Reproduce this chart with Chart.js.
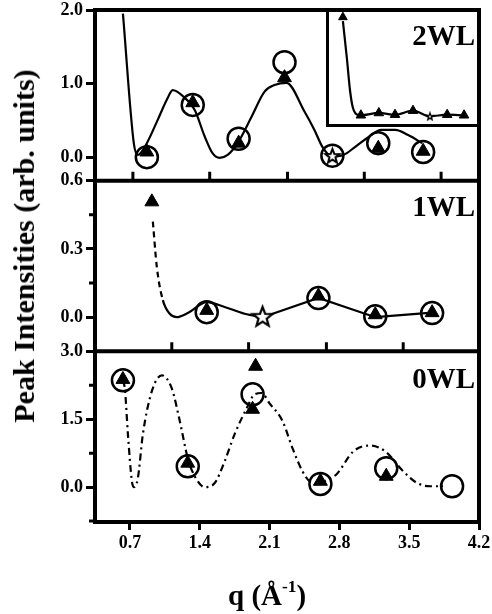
<!DOCTYPE html>
<html>
<head>
<meta charset="utf-8">
<title>Peak intensities vs q</title>
<script src="https://cdn.jsdelivr.net/npm/chart.js@4.4.1/dist/chart.umd.min.js"></script>
<style>
  body { margin: 0; background: #fff; }
  #wrap { position: relative; width: 492px; height: 614px; overflow: hidden; }
  canvas { position: absolute; }
  .txt { position: absolute; font-family: "Liberation Serif", "Times New Roman", serif; font-weight: bold; color: #000; white-space: nowrap; line-height: 1; }
  #ytitle { left: 24px; top: 246px; font-size: 30px; transform: translate(-50%, -50%) rotate(-90deg); }
  #xtitle { left: 228px; top: 581px; font-size: 29px; }
  #xtitle sup { font-size: 0.6em; line-height: 0; vertical-align: 0.75em; }
  .wl { right: 17px; font-size: 29px; }
</style>
</head>
<body>
<div id="wrap">
  <canvas id="main" width="492" height="614" style="left:0;top:0"></canvas>
  <canvas id="inset" width="151" height="115" style="left:326px;top:12px"></canvas>
  <div class="txt wl" style="top:21px">2WL</div>
  <div class="txt wl" style="top:192px">1WL</div>
  <div class="txt wl" style="top:364px">0WL</div>
  <div class="txt" id="ytitle">Peak Intensities (arb. units)</div>
  <div class="txt" id="xtitle">q (Å<sup>-1</sup>)</div>
</div>
<script>
// axis ticks
const qTicks = [0.7, 1.4, 2.1, 2.8, 3.5, 4.2];
const ticks2WL = [0, 1, 2];
const ticks1WL = [0, 0.3, 0.6];
const ticks0WL = [0, 1.5, 3];
const minor1WL = [0.15, 0.45];
const minor0WL = [-0.75, 0.75, 2.25];
const innerTicksTop = [0.73, 1.50, 2.28, 3.05, 3.82];
const innerTicksMid = [1.12, 1.89, 2.67, 3.44];

// 2WL panel
const q2WL = [0.87, 1.33, 1.79, 2.25, 2.73, 3.19, 3.64];
const circ2WL = [0.00, 0.71, 0.25, 1.29, 0.02, 0.19, 0.07];
const tri2WL = [0.07, 0.74, 0.19, 1.08, null, 0.12, 0.08];
const star2WL = [null, null, null, null, 0.02, null, null];
const fitQ2WL = [0.63, 0.74, 0.78, 0.85, 0.98, 1.07, 1.13, 1.23, 1.35, 1.45, 1.53, 1.60, 1.68, 1.78, 1.92, 2.05, 2.15, 2.27, 2.45, 2.55, 2.63, 2.72, 2.84, 2.96, 3.09, 3.22, 3.36, 3.49, 3.63];
const fit2WL = [1.95, 0.18, 0.03, 0.14, 0.51, 0.78, 0.91, 0.83, 0.64, 0.28, 0.05, -0.01, 0.03, 0.19, 0.55, 0.89, 0.98, 1.01, 0.62, 0.37, 0.14, 0.01, 0.03, 0.14, 0.27, 0.37, 0.37, 0.30, 0.19];

// 2WL inset
const insetQ = [0.47, 0.58, 0.67, 0.75, 0.89, 0.97, 1.47, 1.92, 2.42, 2.89, 3.37, 3.84];
const insetI = [9.20, 6.00, 3.13, 1.65, 1.04, 1.02, 1.22, 1.07, 1.42, 0.93, 1.07, 1.02];
const insetTriQ = [0.97, 1.47, 1.92, 2.42, 3.37, 3.84];
const insetTri = [1.02, 1.22, 1.07, 1.42, 1.07, 1.02];
const insetStarQ = [2.89];
const insetStar = [0.93];
const insetArrowQ = [0.47];
const insetArrow = [9.55];

// 1WL panel
const q1WL = [0.92, 1.47, 2.03, 2.59, 3.16, 3.73];
const circ1WL = [null, 0.022, null, 0.084, 0.004, 0.018];
const tri1WL = [0.507, 0.03, null, 0.093, 0.011, 0.02];
const star1WL = [null, null, 0.004, null, null, null];
const fitQ1WL = [0.93, 0.97, 1.03, 1.10, 1.17, 1.28, 1.47, 1.65, 1.85, 2.03];
const fit1WL = [0.42, 0.22, 0.075, 0.015, 0.0, 0.018, 0.066, 0.045, 0.015, 0.0];
const lineQ1WL = [2.03, 2.59, 3.16, 3.73];
const line1WL = [0.0, 0.085, 0.0, 0.02];

// 0WL panel
const q0WL = [0.63, 1.28, 1.93, 1.96, 2.61, 3.27, 3.93];
const circ0WL = [2.36, 0.46, 2.05, null, 0.07, 0.42, 0.02];
const tri0WL = [2.38, 0.53, 1.72, 2.67, 0.13, 0.24, null];
const fitQ0WL = [0.63, 0.65, 0.68, 0.72, 0.74, 0.78, 0.83, 0.92, 1.02, 1.12, 1.20, 1.28, 1.35, 1.45, 1.55, 1.65, 1.75, 1.87, 1.95, 2.02, 2.10, 2.23, 2.33, 2.43, 2.50, 2.58, 2.69, 2.77, 2.94, 3.11, 3.26, 3.44, 3.58, 3.71, 3.84];
const fit0WL = [2.36, 2.16, 1.17, 0.13, 0.00, 0.20, 1.17, 2.12, 2.47, 2.18, 1.46, 0.64, 0.24, 0.00, 0.09, 0.57, 1.17, 1.74, 2.05, 2.08, 1.85, 1.46, 0.86, 0.35, 0.13, 0.06, 0.18, 0.28, 0.79, 0.92, 0.79, 0.35, 0.09, 0.02, 0.02];

const pts = (xs, ys) => xs.map((x, i) => ({x: x, y: ys[i]})).filter(p => p.y !== null);
const serif = 'Liberation Serif';

// open five-point star used as point style
function makeStar(size, lw) {
  const c = document.createElement('canvas');
  c.width = c.height = size;
  const g = c.getContext('2d');
  const cx = size / 2, cy = size / 2 + size * 0.04;
  const R = size / 2 - lw, r = R * 0.42;
  g.beginPath();
  for (let i = 0; i < 10; i++) {
    const a = -Math.PI / 2 + i * Math.PI / 5;
    const rr = i % 2 ? r : R;
    g.lineTo(cx + rr * Math.cos(a), cy + rr * Math.sin(a));
  }
  g.closePath();
  g.fillStyle = '#fff';
  g.fill();
  g.lineWidth = lw;
  g.lineJoin = 'miter';
  g.strokeStyle = '#000';
  g.stroke();
  return c;
}

function triangles(data, yAxisID, r) {
  return { data, yAxisID, pointStyle: 'triangle', pointRadius: r || 8, pointBackgroundColor: '#000', pointBorderColor: '#000', pointBorderWidth: 1, showLine: false };
}
function circles(data, yAxisID) {
  return { data, yAxisID, pointStyle: 'circle', pointRadius: 11, pointBackgroundColor: 'rgba(0,0,0,0)', pointBorderColor: '#000', pointBorderWidth: 2.5, showLine: false };
}
function stars(data, yAxisID, img) {
  return { data, yAxisID, pointStyle: img, pointRadius: 8, showLine: false };
}
function curve(data, yAxisID, extra) {
  return Object.assign({ data, yAxisID, showLine: true, pointRadius: 0, borderColor: '#000', borderWidth: 2.2, cubicInterpolationMode: 'monotone' }, extra);
}

function yScale(min, max, major) {
  return {
    type: 'linear', position: 'left', stack: 'wl', stackWeight: 1, min, max,
    afterBuildTicks: s => { s.ticks = major.map(v => ({value: v})); },
    afterFit: s => { s.width = 95; s.paddingTop = 0; s.paddingBottom = 0; },
    ticks: { color: '#000', padding: 3, font: {family: serif, weight: 'bold', size: 18, lineHeight: 1}, callback: v => v.toFixed(1) },
    grid: { drawOnChartArea: false, tickLength: 9, tickWidth: 3, tickColor: '#000' },
    border: { width: 4, color: '#000' }
  };
}

const framePlugin = {
  id: 'frame',
  afterDraw(chart) {
    const {ctx, chartArea: a, scales} = chart;
    const x = scales.x, yT = scales.y2wl, yM = scales.y1wl, yB = scales.y0wl;
    ctx.save();
    ctx.strokeStyle = '#000';
    ctx.lineWidth = 4;
    ctx.beginPath();
    ctx.moveTo(a.left - 2, a.top); ctx.lineTo(a.right + 2, a.top);
    ctx.moveTo(a.right, a.top); ctx.lineTo(a.right, a.bottom + 2);
    ctx.moveTo(a.left, yT.bottom); ctx.lineTo(a.right, yT.bottom);
    ctx.moveTo(a.left, yM.bottom); ctx.lineTo(a.right, yM.bottom);
    ctx.stroke();
    ctx.lineWidth = 3;
    ctx.beginPath();
    innerTicksTop.forEach(v => { const px = x.getPixelForValue(v); ctx.moveTo(px, yT.bottom); ctx.lineTo(px, yT.bottom - 9); });
    innerTicksMid.forEach(v => { const px = x.getPixelForValue(v); ctx.moveTo(px, yM.bottom); ctx.lineTo(px, yM.bottom - 9); });
    [[yM, minor1WL], [yB, minor0WL]].forEach(([s, vals]) => vals.forEach(v => {
      const py = s.getPixelForValue(v);
      ctx.moveTo(a.left, py); ctx.lineTo(a.left - 6, py);
    }));
    ctx.stroke();
    ctx.restore();
  }
};

new Chart(document.getElementById('main'), {
  type: 'scatter',
  data: {
    datasets: [
      triangles(pts(q2WL, tri2WL), 'y2wl'),
      stars(pts(q2WL, star2WL), 'y2wl', makeStar(19, 2)),
      circles(pts(q2WL, circ2WL), 'y2wl'),
      curve(pts(fitQ2WL, fit2WL), 'y2wl'),
      triangles(pts(q1WL, tri1WL), 'y1wl'),
      stars(pts(q1WL, star1WL), 'y1wl', makeStar(25, 2.2)),
      circles(pts(q1WL, circ1WL), 'y1wl'),
      curve(pts(fitQ1WL, fit1WL), 'y1wl', { segment: { borderDash: c => c.p1.parsed.x <= 1.08 ? [6, 4] : undefined } }),
      curve(pts(lineQ1WL, line1WL), 'y1wl', { cubicInterpolationMode: 'default', tension: 0 }),
      triangles(pts(q0WL, tri0WL), 'y0wl'),
      circles(pts(q0WL, circ0WL), 'y0wl'),
      curve(pts(fitQ0WL, fit0WL), 'y0wl', { borderDash: [7, 4, 2, 4] })
    ]
  },
  options: {
    responsive: false,
    animation: false,
    layout: { autoPadding: false, padding: { left: 0, top: 10, right: 13, bottom: 0 } },
    plugins: { legend: { display: false }, tooltip: { enabled: false } },
    scales: {
      x: {
        type: 'linear', position: 'bottom', min: 0.35, max: 4.2,
        afterBuildTicks: s => { s.ticks = qTicks.map(v => ({value: v})); },
        afterFit: s => { s.height = 92; s.paddingLeft = 0; s.paddingRight = 0; },
        ticks: { color: '#000', padding: 3, autoSkip: false, maxRotation: 0, font: {family: serif, weight: 'bold', size: 18}, callback: v => v.toFixed(1) },
        grid: { drawOnChartArea: false, tickLength: 8, tickWidth: 3, tickColor: '#000' },
        border: { width: 4, color: '#000' }
      },
      y0wl: yScale(-0.77, 3.0, ticks0WL),
      y1wl: yScale(-0.15, 0.6, ticks1WL),
      y2wl: yScale(-0.32, 2.0, ticks2WL)
    }
  },
  plugins: [framePlugin]
});

const insetFrame = {
  id: 'insetFrame',
  afterDraw(chart) {
    const {ctx, width, height} = chart;
    ctx.save();
    ctx.strokeStyle = '#000';
    ctx.lineWidth = 3;
    ctx.beginPath();
    ctx.moveTo(1.5, 0); ctx.lineTo(1.5, height - 1.5); ctx.lineTo(width, height - 1.5);
    ctx.stroke();
    ctx.restore();
  }
};

new Chart(document.getElementById('inset'), {
  type: 'scatter',
  data: {
    datasets: [
      triangles(pts(insetArrowQ, insetArrow), 'y', 5),
      triangles(pts(insetTriQ, insetTri), 'y', 5.5),
      stars(pts(insetStarQ, insetStar), 'y', makeStar(10, 1.4)),
      curve(pts(insetQ, insetI), 'y')
    ]
  },
  options: {
    responsive: false,
    animation: false,
    layout: { autoPadding: false, padding: 0 },
    plugins: { legend: { display: false }, tooltip: { enabled: false } },
    scales: {
      x: { type: 'linear', display: false, min: 0, max: 4.2 },
      y: { type: 'linear', display: false, min: 0, max: 10 }
    }
  },
  plugins: [insetFrame]
});
</script>
</body>
</html>
